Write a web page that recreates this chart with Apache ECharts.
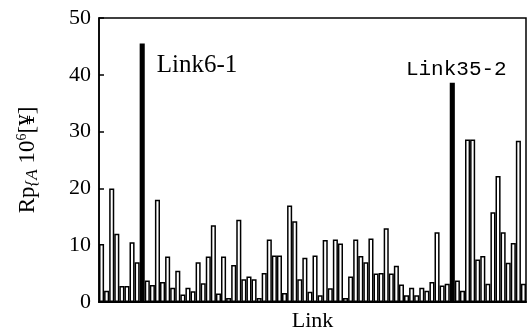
<!DOCTYPE html>
<html>
<head>
<meta charset="utf-8">
<script src="https://cdn.jsdelivr.net/npm/echarts@6/dist/echarts.min.js"></script>
<style>
  html, body { margin: 0; padding: 0; background: #fff; }
  #chart { width: 527px; height: 330px; }
</style>
</head>
<body>
<div id="chart"></div>
<script>
// risk value per link (10^6 yen)
const rpValues = [
  10.2, 2.0, 20.0, 12.0, 2.8, 2.8, 10.5, 7.0, 45.5, 3.8,
  3.0, 18.0, 3.5, 8.0, 2.5, 5.5, 1.3, 2.5, 1.9, 7.0,
  3.3, 8.0, 13.5, 1.5, 8.0, 0.7, 6.5, 14.5, 4.0, 4.5,
  4.0, 0.7, 5.1, 11.0, 8.2, 8.2, 1.6, 17.0, 14.2, 4.0,
  7.8, 1.8, 8.2, 1.2, 10.9, 2.4, 11.0, 10.3, 0.7, 4.5,
  11.0, 8.1, 7.0, 11.2, 5.0, 5.1, 13.0, 5.0, 6.4, 3.1,
  1.2, 2.5, 1.2, 2.5, 2.0, 3.5, 12.3, 2.9, 3.2, 38.6,
  3.8, 2.0, 28.6, 28.6, 7.5, 8.1, 3.2, 15.8, 22.2, 12.3,
  6.9, 10.4, 28.4, 3.2
];
const linkNames = rpValues.map((v, i) => 'L' + (i + 1));
// highlighted links
const peakIndex = [8, 69];
const peakLabels = ['Link6-1', 'Link35-2'];
const yTicks = [0, 10, 20, 30, 40, 50];

const serif = '"Liberation Serif", "DejaVu Serif", serif';

const barData = rpValues.map((v, i) => {
  const k = peakIndex.indexOf(i);
  if (k < 0) return v;
  const item = {
    value: v,
    itemStyle: { color: '#000' },
    label: {
      show: true,
      formatter: peakLabels[k],
      color: '#000'
    }
  };
  if (k === 0) {
    item.label.position = [17, 9];
    item.label.align = 'left';
    item.label.verticalAlign = 'top';
    item.label.fontFamily = serif;
    item.label.fontSize = 25;
  } else {
    item.label.position = 'top';
    item.label.distance = 3;
    item.label.offset = [4, 0];
    item.label.fontFamily = '"Liberation Mono", "DejaVu Sans Mono", monospace';
    item.label.fontSize = 21;
  }
  return item;
});

const chart = echarts.init(document.getElementById('chart'));
chart.setOption({
  animation: false,
  backgroundColor: '#fff',
  grid: {
    left: 99, right: 1, top: 18, bottom: 28,
    outerBoundsMode: 'none',
    containLabel: false,
    show: true, borderColor: '#000', borderWidth: 1.5
  },
  xAxis: {
    type: 'category',
    data: linkNames,
    name: 'Link',
    nameLocation: 'middle',
    nameGap: 8,
    nameTextStyle: { fontFamily: serif, fontSize: 22, color: '#000' },
    axisLine: { lineStyle: { color: '#000', width: 2 } },
    axisTick: { show: false },
    axisLabel: { show: false },
    splitLine: { show: false }
  },
  yAxis: {
    type: 'value',
    min: yTicks[0],
    max: yTicks[yTicks.length - 1],
    interval: 10,
    name: '{n|Rp}{sub|{A}{n| 10}{sup|6}{n|[¥]}',
    nameLocation: 'middle',
    nameGap: 58,
    nameRotate: 90,
    nameTextStyle: {
      color: '#000',
      rich: {
        n: { fontFamily: serif, fontSize: 23, color: '#000' },
        sub: { fontFamily: serif, fontSize: 17, fontStyle: 'italic', color: '#000', verticalAlign: 'bottom', padding: [9, 0, 0, 0] },
        sup: { fontFamily: serif, fontSize: 14, color: '#000', verticalAlign: 'top', padding: [0, 0, 9, 0] }
      }
    },
    axisLine: { show: true, lineStyle: { color: '#000', width: 1.5 } },
    axisTick: { show: true, inside: true, length: 5, lineStyle: { color: '#000', width: 1.5 } },
    axisLabel: { fontFamily: serif, fontSize: 22, color: '#000', margin: 8 },
    splitLine: { show: false }
  },
  series: [{
    type: 'bar',
    data: barData,
    barCategoryGap: '0%',
    itemStyle: { color: '#fff', borderColor: '#000', borderWidth: 1.5 }
  }]
});
</script>
</body>
</html>
